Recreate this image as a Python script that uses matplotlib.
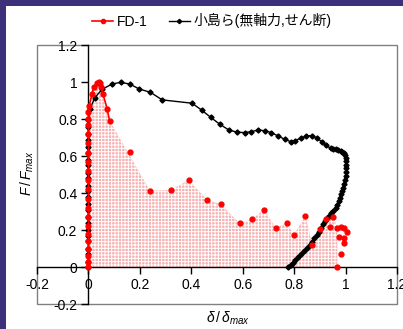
import matplotlib
matplotlib.use('Agg')
import matplotlib.pyplot as plt
from matplotlib.patches import Rectangle
from matplotlib.lines import Line2D

# ---------------- data ----------------
# FD-1 : connected part (rise and peak)
fd_line_x = [0, 0, 0, 0, 0, 0, 0, 0, 0, 0, 0, 0, 0, 0, 0, 0, 0, 0, 0, 0, 0.002,
             0.014, 0.02, 0.035, 0.04, 0.045, 0.049, 0.057, 0.073, 0.082]
fd_line_y = [0.0, 0.03, 0.06, 0.10, 0.14, 0.18, 0.22, 0.27, 0.32, 0.37, 0.42, 0.47,
             0.52, 0.57, 0.62, 0.67, 0.72, 0.77, 0.80, 0.84, 0.87,
             0.935, 0.977, 0.995, 1.0, 0.995, 0.977, 0.935, 0.856, 0.793]
# FD-1 : remaining points (markers only)
fd_pts_x = [0.16, 0.239, 0.32, 0.39, 0.462, 0.515, 0.588, 0.638, 0.682, 0.728,
            0.772, 0.799, 0.844, 0.87, 0.9, 0.924, 0.952, 0.94, 0.968, 0.984,
            0.993, 1.004, 0.976, 0.993, 0.993, 0.984, 0.968]
fd_pts_y = [0.623, 0.413, 0.417, 0.47, 0.363, 0.34, 0.237, 0.262, 0.309, 0.213,
            0.237, 0.175, 0.278, 0.118, 0.205, 0.258, 0.272, 0.218, 0.213, 0.218,
            0.213, 0.191, 0.164, 0.158, 0.132, 0.072, 0.0]
# FD-1 : shaded envelope
env_x = [0, 0, 0.014, 0.02, 0.04, 0.049, 0.057, 0.073, 0.082, 0.239, 0.32, 0.39,
         0.462, 0.515, 0.588, 0.638, 0.682, 0.728, 0.772, 0.799, 0.844, 0.87,
         0.9, 0.924, 0.952, 0.968, 0.968]
env_y = [0, 0.87, 0.935, 0.977, 1.0, 0.977, 0.935, 0.856, 0.793, 0.413, 0.417, 0.47,
         0.363, 0.34, 0.237, 0.262, 0.309, 0.213, 0.237, 0.175, 0.278, 0.118,
         0.205, 0.258, 0.272, 0.213, 0.0]

# 小島ら(無軸力,せん断)
kj_x = [0] * 24 + [0.005, 0.025, 0.053, 0.092, 0.125, 0.16, 0.198, 0.241, 0.287,
        0.403, 0.44, 0.475, 0.511, 0.546, 0.579, 0.607, 0.633, 0.66, 0.686, 0.711,
        0.737, 0.763, 0.786, 0.803, 0.825, 0.848, 0.87, 0.89, 0.907, 0.922, 0.942,
        0.952, 0.961, 0.971, 0.981, 0.987, 0.993, 0.997, 1.0, 1.002, 1.003, 1.003,
        1.003, 1.001, 0.998, 0.995, 0.99, 0.987, 0.983, 0.978, 0.974, 0.968, 0.961,
        0.953, 0.945, 0.936, 0.928, 0.92, 0.912, 0.903, 0.895, 0.887, 0.879, 0.87,
        0.86, 0.85, 0.838, 0.826, 0.815, 0.805, 0.795, 0.786, 0.777]
kj_y = [0.0, 0.03, 0.07, 0.10, 0.14, 0.17, 0.20, 0.24, 0.27, 0.31, 0.34, 0.38,
        0.41, 0.44, 0.48, 0.51, 0.55, 0.58, 0.62, 0.65, 0.69, 0.72, 0.76, 0.796,
        0.854, 0.917, 0.962, 0.991, 1.0, 0.991, 0.964, 0.946, 0.905,
        0.887, 0.85, 0.811, 0.773, 0.742, 0.73, 0.728, 0.733, 0.742, 0.738, 0.728,
        0.71, 0.692, 0.679, 0.685, 0.697, 0.711, 0.711, 0.697, 0.679, 0.661, 0.643,
        0.64, 0.637, 0.634, 0.63, 0.625, 0.616, 0.605, 0.589, 0.572, 0.553, 0.535,
        0.516, 0.494, 0.471, 0.45, 0.426, 0.41, 0.395, 0.375, 0.358, 0.338, 0.318,
        0.304, 0.292, 0.277, 0.264, 0.25, 0.232, 0.212, 0.192, 0.172, 0.155, 0.138,
        0.12, 0.103, 0.085, 0.068, 0.052, 0.038, 0.024, 0.012, 0.0]

ticks = [-0.2, 0, 0.2, 0.4, 0.6, 0.8, 1, 1.2]
tick_labels = ['-0.2', '0', '0.2', '0.4', '0.6', '0.8', '1', '1.2']
legend_labels = ['FD-1', '小島ら(無軸力,せん断)']

# ---------------- style ----------------
plt.rcParams['font.family'] = ['Liberation Sans', 'Noto Sans CJK JP', 'DejaVu Sans']
plt.rcParams['axes.unicode_minus'] = False
plt.rcParams['hatch.linewidth'] = 0.7
plt.rcParams['hatch.color'] = 'white'
plt.rcParams['mathtext.fontset'] = 'custom'
plt.rcParams['mathtext.rm'] = 'Liberation Sans'
plt.rcParams['mathtext.it'] = 'Liberation Sans:italic'

fig = plt.figure(figsize=(4.03, 3.29), dpi=100)
fig.patch.set_facecolor('white')
purple = '#3d2f7a'
fig.add_artist(Rectangle((0, 0), 6 / 403, 1, transform=fig.transFigure,
                         facecolor=purple, edgecolor='none', zorder=0))
fig.add_artist(Rectangle((0, 1 - 6 / 329), 1, 6 / 329, transform=fig.transFigure,
                         facecolor=purple, edgecolor='none', zorder=0))

ax = fig.add_axes([37 / 403, 1 - 304 / 329, 360 / 403, (304 - 45.4) / 329])
ax.set_xlim(-0.2, 1.2)
ax.set_ylim(-0.2, 1.2)

# gray plot-area frame
ax.add_patch(Rectangle((0, 0), 1, 1, transform=ax.transAxes, fill=False,
                       edgecolor='#808080', lw=1.0, clip_on=False, zorder=1))
for s in ['top', 'right']:
    ax.spines[s].set_visible(False)
ax.spines['left'].set_position(('data', 0))
ax.spines['bottom'].set_position(('data', 0))
for s in ['left', 'bottom']:
    ax.spines[s].set_color('black')
    ax.spines[s].set_linewidth(1.0)
    ax.spines[s].set_zorder(2)

ax.set_xticks(ticks)
ax.set_xticklabels(tick_labels)
ax.set_yticks(ticks)
ax.set_yticklabels(tick_labels)
ax.tick_params(direction='out', length=5, width=1, labelsize=10, pad=3)

# shaded envelope (pink with white grid hatch)
ax.fill(env_x, env_y, facecolor='#f9b0b0', edgecolor='white', hatch='+++++',
        lw=0, zorder=1.5)

# series
ax.plot(kj_x, kj_y, color='black', lw=1.0, marker='D', ms=2.6, zorder=3)
ax.plot(fd_line_x, fd_line_y, color='#ff0000', lw=1.2, marker='o', ms=3.5,
        zorder=4)
ax.plot(fd_pts_x, fd_pts_y, color='#ff0000', lw=0, marker='o', ms=3.5, zorder=4)

# labels
fig.text(27 / 403, 1 - 173 / 329, r'$F\,/\,F_{max}$', rotation=90,
         ha='center', va='center', fontsize=10)
fig.text(228 / 403, 1 - 318 / 329, r'$\delta\,/\,\delta_{max}$',
         ha='center', va='center', fontsize=10)

handles = [Line2D([], [], color='#ff0000', lw=1.2, marker='o', ms=3),
           Line2D([], [], color='black', lw=1.0, marker='D', ms=2.2)]
fig.legend(handles, legend_labels, loc='center', ncol=2,
           bbox_to_anchor=(212 / 403, 1 - 21 / 329), frameon=False, fontsize=10,
           handlelength=1.5, handletextpad=0.3, columnspacing=1.5)

fig.savefig('out.png', dpi=100)
